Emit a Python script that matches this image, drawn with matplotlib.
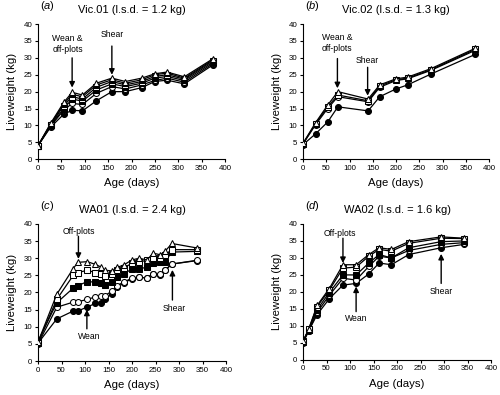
import matplotlib
matplotlib.use("Agg")
import matplotlib.pyplot as plt

plt.rcParams['font.family'] = ['Liberation Sans', 'DejaVu Sans']
plt.rcParams['mathtext.fontset'] = 'custom'
plt.rcParams['mathtext.it'] = 'Liberation Sans:italic'
plt.rcParams['mathtext.rm'] = 'Liberation Sans'

# ---- Panel (a) Vic.01 ----
age_a = [0, 27, 55, 73, 95, 125, 158, 187, 222, 250, 276, 313, 375]
a_fc = [4.0, 9.5, 13.3, 14.5, 14.3, 17.3, 20.0, 20.0, 21.2, 23.0, 23.4, 22.3, 28.0]
a_oc = [4.0, 9.8, 14.5, 16.5, 16.2, 19.5, 21.5, 20.8, 22.0, 23.3, 24.0, 22.8, 28.4]
a_fs = [4.0, 10.0, 15.0, 17.8, 17.2, 20.5, 22.3, 21.5, 22.5, 24.0, 24.5, 23.3, 28.8]
a_os = [4.0, 10.2, 15.8, 18.5, 17.8, 21.3, 23.0, 22.0, 23.0, 24.5, 25.0, 23.7, 29.2]
a_ft = [4.0, 10.4, 16.3, 19.2, 18.5, 22.0, 23.5, 22.5, 23.5, 25.0, 25.5, 24.0, 29.5]
a_ot = [4.0, 10.6, 16.8, 19.8, 19.0, 22.5, 24.0, 23.0, 24.0, 25.3, 25.8, 24.4, 29.8]

# ---- Panel (b) Vic.02 ----
age_b = [0, 27, 53, 75, 140, 165, 200, 225, 275, 370]
b_fc = [4.3, 7.5, 11.0, 15.5, 14.3, 18.5, 20.8, 22.0, 25.2, 31.0]
b_oc = [4.5, 10.2, 15.0, 18.5, 17.0, 21.3, 23.3, 23.8, 26.3, 32.2]
b_os = [4.6, 10.5, 15.5, 19.0, 17.3, 21.7, 23.5, 24.0, 26.5, 32.5]
b_ot = [4.7, 10.8, 16.0, 20.0, 17.8, 22.0, 23.8, 24.3, 26.8, 32.8]

# ---- Panel (c) WA01 ----
age_c = [0, 40, 75, 85, 105, 122, 133, 142, 158, 168, 182, 200, 215, 232, 245, 260, 270, 285, 338]
c_fc = [5.2, 12.3, 14.6, 14.6, 15.8, 16.8, 17.0, 18.0, 19.7, 21.5, 22.8, 24.0, 24.5, 24.2, 25.5, 25.2, 26.5, 28.3, 29.3]
c_oc = [5.0, 15.7, 17.2, 17.3, 18.0, 18.7, 19.0, 19.0, 20.5, 22.0, 23.0, 24.2, 24.5, 24.2, 25.5, 25.3, 26.5, 28.3, 29.4]
c_fs = [5.8, 17.0, 21.3, 22.0, 23.2, 23.0, 22.7, 22.3, 23.0, 24.5, 25.5, 26.8, 27.0, 27.3, 28.5, 28.8, 29.0, 31.8, 32.0]
c_os = [5.3, 18.0, 25.0, 25.8, 26.5, 25.8, 25.5, 24.8, 25.5, 26.5, 27.2, 28.5, 28.8, 29.5, 30.0, 30.2, 31.0, 32.5, 32.5]
c_ot = [5.5, 19.5, 27.0, 28.8, 29.0, 28.2, 27.5, 26.5, 26.3, 27.3, 28.0, 29.5, 30.0, 29.5, 31.5, 31.0, 32.0, 34.3, 33.0]

# ---- Panel (d) WA02 ----
age_d = [0, 12, 30, 56, 85, 113, 140, 162, 188, 225, 294, 343]
d_fc = [5.2, 8.5, 13.3, 18.0, 22.0, 22.5, 25.3, 28.5, 28.0, 31.0, 33.0, 34.0]
d_oc = [5.0, 8.5, 14.0, 19.0, 24.0, 23.5, 27.5, 30.5, 30.0, 32.2, 34.0, 34.5]
d_fs = [5.5, 8.8, 14.8, 19.8, 25.0, 25.0, 28.5, 31.0, 30.0, 33.0, 34.8, 35.0]
d_os = [5.3, 9.0, 15.7, 20.5, 27.0, 27.3, 30.5, 32.5, 32.0, 34.3, 35.8, 35.7]
d_ot = [5.5, 9.0, 16.0, 21.0, 28.0, 28.0, 31.0, 33.0, 32.5, 34.8, 36.2, 35.8]

letters = ['a', 'b', 'c', 'd']
titles = ['Vic.01 (l.s.d. = 1.2 kg)', 'Vic.02 (l.s.d. = 1.3 kg)',
          'WA01 (l.s.d. = 2.4 kg)', 'WA02 (l.s.d. = 1.6 kg)']

styles = {
    'fc': dict(marker='o', mfc='black'),
    'oc': dict(marker='o', mfc='white'),
    'fs': dict(marker='s', mfc='black'),
    'os': dict(marker='s', mfc='white'),
    'ft': dict(marker='^', mfc='black'),
    'ot': dict(marker='^', mfc='white'),
}

panels = [
    (age_a, [('fc', a_fc), ('oc', a_oc), ('fs', a_fs), ('os', a_os), ('ft', a_ft), ('ot', a_ot)]),
    (age_b, [('fc', b_fc), ('oc', b_oc), ('os', b_os), ('ot', b_ot)]),
    (age_c, [('fc', c_fc), ('oc', c_oc), ('fs', c_fs), ('os', c_os), ('ot', c_ot)]),
    (age_d, [('fc', d_fc), ('oc', d_oc), ('fs', d_fs), ('os', d_os), ('ot', d_ot)]),
]

# annotations: (text, text_x, text_y, arrow_x, arrow_y_start, arrow_y_end)
annots = [
    [('Wean &\noff-plots', 63, 34.0, 73, 30.0, 21.2), ('Shear', 159, 37.0, 158, 33.5, 25.0)],
    [('Wean &\noff-plots', 74, 34.4, 74, 29.8, 21.0), ('Shear', 139, 29.1, 139, 27.2, 18.8)],
    [('Off-plots', 87, 37.7, 86, 36.4, 29.8), ('Wean', 110, 7.3, 104, 9.4, 15.0),
     ('Shear', 290, 15.4, 286, 17.8, 26.6)],
    [('Off-plots', 78, 37.3, 85, 35.8, 28.5), ('Wean', 113, 12.3, 113, 14.2, 21.6),
     ('Shear', 294, 20.2, 294, 22.5, 31.2)],
]

positions = [
    [0.076, 0.597, 0.374, 0.342],
    [0.606, 0.597, 0.372, 0.342],
    [0.076, 0.086, 0.376, 0.347],
    [0.606, 0.089, 0.376, 0.344],
]

fig = plt.figure(figsize=(5.0, 3.95), dpi=100)
for i in range(4):
    ax = fig.add_axes(positions[i])
    ages, series = panels[i]
    for key, vals in series:
        st = styles[key]
        ax.plot(ages, vals, color='black', lw=0.9, marker=st['marker'],
                mfc=st['mfc'], mec='black', mew=0.75, ms=4.3, zorder=3)
    ax.set_xlim(0, 400)
    ax.set_ylim(0, 40)
    ax.set_xticks(range(0, 401, 50))
    ax.set_yticks(range(0, 41, 5))
    for s in ['top', 'right']:
        ax.spines[s].set_visible(False)
    for s in ['left', 'bottom']:
        ax.spines[s].set_linewidth(0.8)
    ax.tick_params(direction='out', length=2.5, width=0.8, labelsize=5.7, pad=1.5)
    ax.set_xlabel('Age (days)', fontsize=8.2, labelpad=4.5)
    ax.set_ylabel('Liveweight (kg)', fontsize=8.2, labelpad=5)
    ax.set_title(titles[i], fontsize=8.0, pad=8)
    ax.text(0.05, 1.0, '($\\it{' + letters[i] + '}$)', transform=ax.transAxes,
            fontsize=8.0, ha='center', va='bottom')
    for txt, tx, ty, axx, y0, y1 in annots[i]:
        ax.text(tx, ty, txt, fontsize=6.2, ha='center', va='center', linespacing=1.3)
        ax.annotate('', xy=(axx, y1), xytext=(axx, y0),
                    arrowprops=dict(arrowstyle='-|>', color='black', lw=1.0,
                                    mutation_scale=8, shrinkA=0, shrinkB=0))

# place the panel letters at same height as titles
for ax in fig.axes:
    for t in ax.texts:
        if t.get_text().startswith('($'):
            t.set_transform(ax.title.get_transform())
            t.set_position((0.05, 1.0))

fig.savefig('out.png', dpi=100)
